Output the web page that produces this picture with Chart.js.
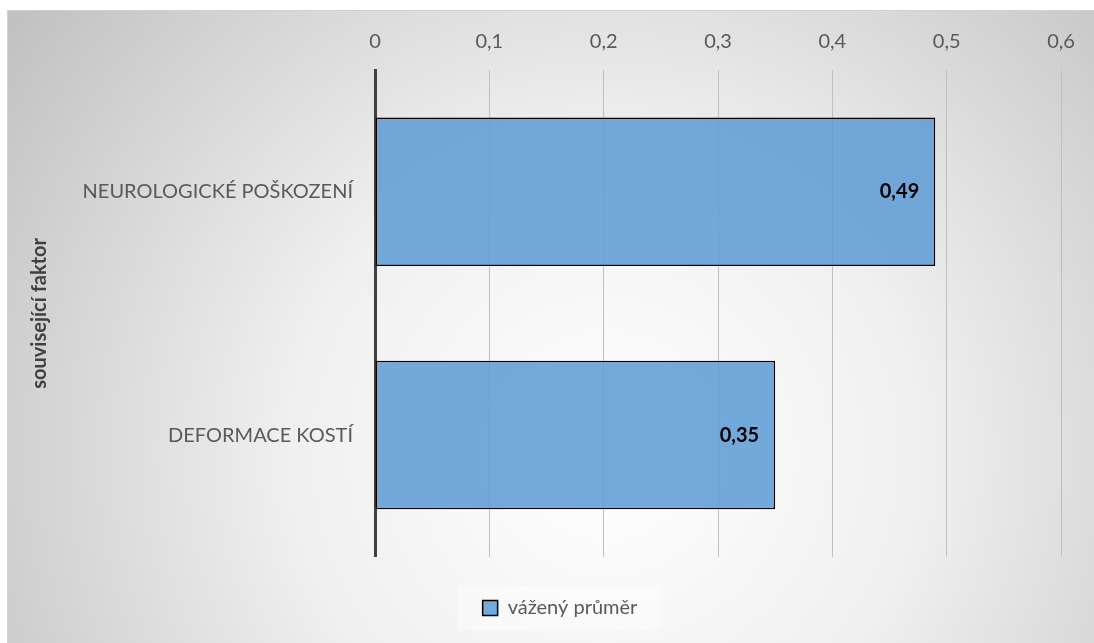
<!DOCTYPE html>
<html>
<head>
<meta charset="utf-8">
<script src="https://cdn.jsdelivr.net/npm/chart.js@4"></script>
<style>
    body { margin: 0; background: #fff; }
    #frame {
        position: absolute; left: 7px; top: 10px; right: 0; bottom: 0;
        border-left: 1px solid #d0d0d0; border-top: 1px solid #d0d0d0;
        background: radial-gradient(circle farthest-corner at 55% 70%, #ffffff 0%, #f0f0f0 42%, #c0c0c0 100%);
    }
    #wrap { position: absolute; left: 0; top: 0; width: 1094px; height: 643px; }
</style>
</head>
<body>
<div id="frame"></div>
<div id="wrap"><canvas id="myChart" width="1094" height="643"></canvas></div>
<script>
const categories = ['NEUROLOGICKÉ POŠKOZENÍ', 'DEFORMACE KOSTÍ'];
const weightedAvg = [0.49, 0.35];
const seriesName = 'vážený průměr';
const axisTitle = 'související faktor';

const FONT = 'Lato, "Open Sans", sans-serif';

function commaNum(v) {
    return String(Math.round(v * 100) / 100).replace('.', ',');
}

// labels at the end of each bar, like Excel "inside end"
const barLabels = {
    id: 'barLabels',
    afterDatasetsDraw(chart) {
        const ctx = chart.ctx;
        const meta = chart.getDatasetMeta(0);
        ctx.save();
        ctx.font = 'bold 20px ' + FONT;
        ctx.fillStyle = '#000';
        ctx.textAlign = 'right';
        ctx.textBaseline = 'middle';
        meta.data.forEach((bar, i) => {
            ctx.fillText(commaNum(chart.data.datasets[0].data[i]), bar.x - 16, bar.y);
        });
        ctx.restore();
    }
};

// faint box behind legend
const legendBox = {
    id: 'legendBox',
    beforeDraw(chart) {
        const lg = chart.legend;
        if (!lg || !lg.legendHitBoxes.length) return;
        const hb = lg.legendHitBoxes[0];
        const ctx = chart.ctx;
        ctx.save();
        ctx.fillStyle = 'rgba(255,255,255,0.4)';
        ctx.fillRect(hb.left - 25, hb.top - 12, hb.width + 48, hb.height + 24);
        ctx.restore();
    }
};

let ctx = document.getElementById('myChart').getContext('2d');

let myChart = new Chart(ctx, {
    type: 'bar',
    data: {
        labels: categories,
        datasets: [{
            label: seriesName,
            data: weightedAvg,
            backgroundColor: 'rgba(91, 155, 213, 0.85)',
            borderColor: '#000',
            borderWidth: 1.5,
            borderSkipped: false,
            categoryPercentage: 0.61,
            barPercentage: 1
        }]
    },
    options: {
        indexAxis: 'y',
        responsive: false,
        animation: false,
        layout: { padding: { left: 26, top: 0, right: 0, bottom: 15 } },
        scales: {
            x: {
                position: 'top',
                min: 0,
                max: 0.6,
                ticks: {
                    stepSize: 0.1,
                    padding: 16,
                    color: '#595959',
                    font: { family: FONT, size: 20 },
                    callback: (v) => commaNum(v)
                },
                grid: { color: '#bfbfbf', lineWidth: 1, drawTicks: false },
                border: { display: false },
                afterFit: (s) => { s.height = 70; }
            },
            y: {
                ticks: {
                    padding: 22,
                    color: '#595959',
                    font: { family: FONT, size: 20 }
                },
                grid: { display: false, drawTicks: false },
                border: { color: '#404040', width: 3 },
                title: {
                    display: true,
                    text: axisTitle,
                    color: '#404040',
                    font: { family: FONT, size: 20, weight: 'bold' },
                    padding: { top: 2, bottom: 0 }
                },
                afterFit: (s) => { s.width = 349; }
            },
            // empty right axis, only to keep the right margin
            yRight: {
                type: 'category',
                position: 'right',
                ticks: { display: false },
                grid: { display: false, drawTicks: false },
                border: { display: false },
                afterFit: (s) => { s.width = 33; }
            }
        },
        plugins: {
            legend: {
                position: 'bottom',
                title: { display: true, text: '', font: { size: 1 }, padding: { top: 30, bottom: 0 } },
                labels: {
                    color: '#595959',
                    font: { family: FONT, size: 20 },
                    boxWidth: 15,
                    boxHeight: 15,
                    padding: 10
                }
            },
            tooltip: { enabled: false }
        }
    },
    plugins: [barLabels, legendBox]
});
</script>
</body>
</html>
